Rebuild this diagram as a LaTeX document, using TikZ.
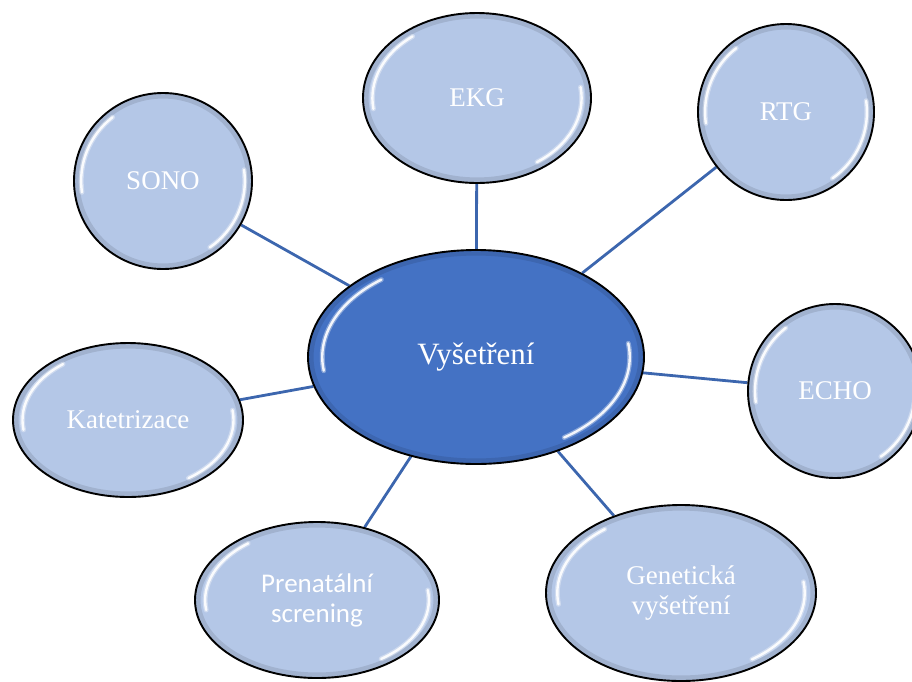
\documentclass[tikz,border=0pt]{standalone}
\usepackage{fontspec}
\setmainfont{Liberation Serif}
\newfontfamily\calibrifont{Carlito}
\usetikzlibrary{shapes.geometric,calc,backgrounds}
\definecolor{satfill}{HTML}{B4C7E7}
\definecolor{hubfill}{HTML}{4472C4}
\definecolor{linkcol}{HTML}{3C66AE}
\tikzset{
  bubble/.style={ellipse, draw=black, line width=1.9pt, inner sep=0pt, text=white, align=center},
  sat/.style={bubble, fill=satfill, font=\fontsize{27}{30}\selectfont},
  satsans/.style={sat, font=\calibrifont\fontsize{27}{30}\selectfont},
  hub/.style={bubble, fill=hubfill, font=\fontsize{31}{34}\selectfont},
  link/.style={draw=linkcol, line width=2.8pt},
  glow/.style={white, line width=5pt, line cap=round, opacity=0.35},
  gloss/.style={white, line width=2.4pt, line cap=round, opacity=0.9},
  rim/.style={black, line width=5pt, opacity=0.10},
}
\begin{document}
\begin{tikzpicture}[x=1pt,y=1pt]
\useasboundingbox (0,0) rectangle (912,-681);
\node[hub, minimum width=336pt, minimum height=214pt] (hub) at (476,-357) {Vyšetření};
\node[sat, minimum width=228pt, minimum height=170pt] (ekg) at (477,-98) {EKG};
\node[sat, minimum width=176pt, minimum height=176pt] (rtg) at (786,-112) {RTG};
\node[sat, minimum width=178pt, minimum height=176pt] (sono) at (163,-181) {SONO};
\node[sat, minimum width=174pt, minimum height=174pt] (echo) at (835,-391) {ECHO};
\node[sat, minimum width=230pt, minimum height=154pt] (kat) at (128,-420) {Katetrizace};
\node[satsans, minimum width=244pt, minimum height=156pt] (pren) at (317,-600) {Prenatální\\screning};
\node[sat, minimum width=270pt, minimum height=176pt] (gen) at (681,-593) {Genetická\\vyšetření};
\begin{scope}[on background layer]
  \draw[link] (hub) -- (ekg);
  \draw[link] (hub) -- (rtg);
  \draw[link] (hub) -- (sono);
  \draw[link] (hub) -- (echo);
  \draw[link] (hub) -- (kat);
  \draw[link] (hub) -- (pren);
  \draw[link] (hub) -- (gen);
\end{scope}
\foreach \nd in {hub,ekg,rtg,sono,echo,kat,pren,gen} {
  \draw[rim] let \p1=(\nd.center), \p2=(\nd.east), \p3=(\nd.north),
      \n1={\x2-\x1-4}, \n2={\y3-\y1-4} in
    (\p1) ellipse [x radius={\n1*1pt}, y radius={\n2*1pt}];
  \foreach \sa/\ea in {128/188, 8/-55} {
    \draw[glow] let \p1=(\nd.center), \p2=(\nd.east), \p3=(\nd.north),
        \n1={\x2-\x1}, \n2={\y3-\y1} in
      ($(\p1)+({0.91*\n1*cos(\sa)},{0.91*\n2*sin(\sa)})$)
      arc[start angle=\sa, end angle=\ea, x radius={0.91*\n1*1pt}, y radius={0.91*\n2*1pt}];
    \draw[gloss] let \p1=(\nd.center), \p2=(\nd.east), \p3=(\nd.north),
        \n1={\x2-\x1}, \n2={\y3-\y1} in
      ($(\p1)+({0.91*\n1*cos(\sa)},{0.91*\n2*sin(\sa)})$)
      arc[start angle=\sa, end angle=\ea, x radius={0.91*\n1*1pt}, y radius={0.91*\n2*1pt}];
  }
}
\end{tikzpicture}
\end{document}
